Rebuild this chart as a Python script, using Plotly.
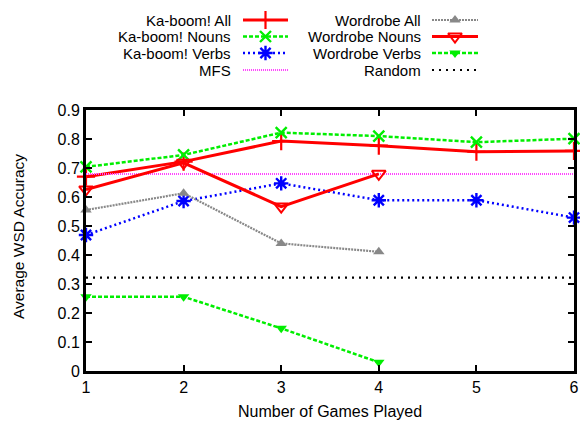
import plotly.graph_objects as go

# ---------------- data ----------------
games = [1, 2, 3, 4, 5, 6]
games_wordrobe = [1, 2, 3, 4]

kaboom_all = [0.670, 0.722, 0.793, 0.777, 0.756, 0.759]
kaboom_nouns = [0.704, 0.745, 0.822, 0.810, 0.789, 0.801]
kaboom_verbs = [0.469, 0.586, 0.647, 0.589, 0.589, 0.529]
mfs_value = 0.679
wordrobe_all = [0.555, 0.613, 0.440, 0.411]
wordrobe_nouns = [0.626, 0.718, 0.567, 0.680]
wordrobe_verbs = [0.256, 0.256, 0.147, 0.030]
random_value = 0.322

y_tickvals = [0, 0.1, 0.2, 0.3, 0.4, 0.5, 0.6, 0.7, 0.8, 0.9]
y_ticktext = ["0", "0.1", "0.2", "0.3", "0.4", "0.5", "0.6", "0.7", "0.8", "0.9"]
x_ticktext = ["1", "2", "3", "4", "5", "6"]

# ---------------- styling ----------------
W, H = 580, 422
FONT = "Liberation Sans, Arial, sans-serif"
L, R, T, B = 86, 574, 110, 371  # plot area in pixels
XMIN, XMAX, YMIN, YMAX = 1, 6, 0, 0.9

series = [
    dict(name="Ka-boom! All", x=games, y=kaboom_all, color="#ff0000", dash="solid", width=3,
         symbol="cross-thin-open", size=13, mlw=2.2),
    dict(name="Ka-boom! Nouns", x=games, y=kaboom_nouns, color="#00ee00", dash="4px,2px", width=2.5,
         symbol="x-thin-open", size=11, mlw=2.4),
    dict(name="Ka-boom! Verbs", x=games, y=kaboom_verbs, color="#0000ff", dash="2px,3px", width=2.5,
         symbol="asterisk-open", size=12, mlw=2.4),
    dict(name="MFS", x=games, y=[mfs_value] * len(games), color="#ff44ff", dash="1px,1px", width=2,
         symbol=None, size=0, mlw=0),
    dict(name="Wordrobe All", x=games_wordrobe, y=wordrobe_all, color="#888888", dash="2px,1px", width=2.2,
         symbol="triangle-up", size=10, mlw=0),
    dict(name="Wordrobe Nouns", x=games_wordrobe, y=wordrobe_nouns, color="#ff0000", dash="solid", width=3,
         symbol="triangle-down-open", size=12, mlw=2),
    dict(name="Wordrobe Verbs", x=games_wordrobe, y=wordrobe_verbs, color="#00ee00", dash="4px,2px", width=2.5,
         symbol="triangle-down", size=10, mlw=0),
    dict(name="Random", x=games, y=[random_value] * len(games), color="#000000", dash="2px,5px", width=2.2,
         symbol=None, size=0, mlw=0),
]

fig = go.Figure()

for s in series:
    mode = "lines+markers" if s["symbol"] else "lines"
    kw = {}
    if s["symbol"]:
        kw["marker"] = dict(symbol=s["symbol"], size=s["size"], color=s["color"],
                            line=dict(width=s["mlw"], color=s["color"]))
    fig.add_trace(go.Scatter(
        x=s["x"], y=s["y"], mode=mode, name=s["name"],
        line=dict(color=s["color"], width=s["width"], dash=s["dash"]),
        cliponaxis=False, showlegend=False, xaxis="x", yaxis="y", **kw))

# ---------------- manual legend (label, then line sample) on a hidden pixel-space axis ----------------
leg_rows = [20, 36.5, 53, 70]
leg_cols = [(233, 243, 288), (423, 432, 478)]
annotations = []
for i, s in enumerate(series):
    col, row = divmod(i, 4)
    tx, x0, x1 = leg_cols[col]
    yy = leg_rows[row]
    annotations.append(dict(text=s["name"], x=tx / W, y=1 - yy / H, xref="paper", yref="paper",
                            xanchor="right", yanchor="middle", showarrow=False,
                            font=dict(family=FONT, size=15, color="#000")))
    fig.add_trace(go.Scatter(x=[x0, x1], y=[yy, yy], mode="lines",
                             line=dict(color=s["color"], width=s["width"], dash=s["dash"]),
                             xaxis="x2", yaxis="y2", showlegend=False, hoverinfo="skip"))
    if s["symbol"]:
        fig.add_trace(go.Scatter(x=[(x0 + x1) / 2], y=[yy], mode="markers",
                                 marker=dict(symbol=s["symbol"], size=s["size"], color=s["color"],
                                             line=dict(width=s["mlw"], color=s["color"])),
                                 xaxis="x2", yaxis="y2", showlegend=False, hoverinfo="skip",
                                 cliponaxis=False))

# axis titles
annotations.append(dict(text="Number of Games Played", x=330 / W, y=1 - 411 / H, xref="paper", yref="paper",
                        xanchor="center", yanchor="middle", showarrow=False,
                        font=dict(family=FONT, size=16, color="#000")))
annotations.append(dict(text="Average WSD Accuracy", x=18 / W, y=1 - 237 / H, xref="paper", yref="paper",
                        xanchor="center", yanchor="middle", showarrow=False, textangle=-90,
                        font=dict(family=FONT, size=15.5, color="#000")))

axis_common = dict(showline=True, linecolor="#000", linewidth=3, mirror="ticks",
                   ticks="inside", ticklen=6, tickwidth=2, tickcolor="#000",
                   showgrid=False, zeroline=False, automargin=False,
                   tickfont=dict(family=FONT, size=16, color="#000"))

fig.update_layout(
    template="none",
    width=W, height=H,
    margin=dict(l=0, r=0, t=0, b=0, pad=0),
    paper_bgcolor="white", plot_bgcolor="rgba(0,0,0,0)",
    showlegend=False,
    xaxis=dict(domain=[L / W, R / W], range=[XMIN, XMAX], tickvals=games, ticktext=x_ticktext,
               anchor="y", **axis_common),
    yaxis=dict(domain=[1 - B / H, 1 - T / H], range=[YMIN, YMAX], tickvals=y_tickvals, ticktext=y_ticktext,
               anchor="x", **axis_common),
    xaxis2=dict(domain=[0, 1], range=[0, W], visible=False, anchor="y2", automargin=False),
    yaxis2=dict(domain=[0, 1], range=[H, 0], visible=False, anchor="x2", automargin=False),
    annotations=annotations,
)

fig.write_html("out.html", config={"displayModeBar": False},
               post_script="document.body.style.margin='0px';")
